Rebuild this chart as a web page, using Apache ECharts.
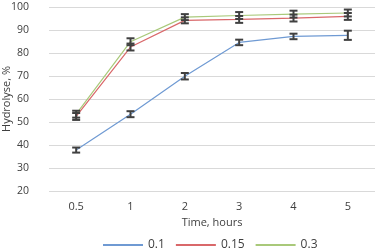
<!DOCTYPE html>
<html>
<head>
<meta charset="utf-8">
<script src="https://cdn.jsdelivr.net/npm/echarts@6/dist/echarts.min.js"></script>
<style>
  html, body { margin: 0; padding: 0; background: #fff; }
  #chart { width: 387px; height: 250px; }
</style>
</head>
<body>
<div id="chart"></div>
<script>
var times = ['0.5', '1', '2', '3', '4', '5'];
var names = ['0.1', '0.15', '0.3'];
var colors = ['#6f9ad3', '#d9686a', '#a9c97a'];

var hyd01 = [37.8, 53.4, 69.9, 84.6, 87.2, 87.7];
var hyd015 = [52.4, 82.6, 94.2, 94.6, 95.2, 95.9];
var hyd03 = [53.4, 84.9, 95.6, 96.3, 96.9, 97.4];

var err01 = [1.1, 1.3, 1.4, 1.2, 1.2, 2.0];
var err015 = [1.5, 1.5, 1.3, 1.5, 1.5, 1.5];
var err03 = [1.5, 1.5, 1.3, 1.5, 1.5, 1.5];

var yTicks = [20, 30, 40, 50, 60, 70, 80, 90, 100];

var values = [hyd01, hyd015, hyd03];
var errors = [err01, err015, err03];

function errorData(vals, errs) {
    return vals.map(function (v, i) { return [i, v - errs[i], v + errs[i]]; });
}

function renderError(params, api) {
    var top = api.coord([api.value(0), api.value(2)]);
    var bot = api.coord([api.value(0), api.value(1)]);
    var half = 4;
    var style = { stroke: '#404040', lineWidth: 2 };
    return {
        type: 'group',
        children: [
            { type: 'line', shape: { x1: top[0], y1: top[1], x2: bot[0], y2: bot[1] }, style: style },
            { type: 'line', shape: { x1: top[0] - half, y1: top[1], x2: top[0] + half, y2: top[1] }, style: style },
            { type: 'line', shape: { x1: bot[0] - half, y1: bot[1], x2: bot[0] + half, y2: bot[1] }, style: style }
        ]
    };
}

var series = [];
names.forEach(function (n, k) {
    series.push({
        name: n,
        type: 'line',
        data: values[k],
        symbol: 'none',
        lineStyle: { color: colors[k], width: 1.2 },
        itemStyle: { color: colors[k] },
        z: 2
    });
});
names.forEach(function (n, k) {
    series.push({
        name: n + ' err',
        type: 'custom',
        renderItem: renderError,
        data: errorData(values[k], errors[k]),
        encode: { x: 0, y: [1, 2] },
        z: 3,
        silent: true
    });
});

var myChart = echarts.init(document.getElementById('chart'));
var option = {
    animation: false,
    textStyle: { fontFamily: 'Open Sans' },
    grid: { left: 49, right: 12, top: 7, bottom: 59, containLabel: false, outerBoundsMode: 'none' },
    legend: {
        data: names,
        top: 234,
        left: 98,
        itemWidth: 40,
        itemHeight: 2,
        itemGap: 11,
        icon: 'rect',
        textStyle: { fontSize: 12, color: '#404040', fontFamily: 'Open Sans' }
    },
    xAxis: {
        type: 'category',
        data: times,
        boundaryGap: true,
        name: 'Time, hours',
        nameLocation: 'middle',
        nameGap: 25,
        nameTextStyle: { fontSize: 11, color: '#404040' },
        axisLine: { show: false },
        axisTick: { show: false },
        axisLabel: { fontSize: 11, color: '#404040', margin: 10 }
    },
    yAxis: {
        type: 'value',
        min: yTicks[0],
        max: yTicks[yTicks.length - 1],
        interval: 10,
        name: 'Hydrolyse, %',
        nameLocation: 'middle',
        nameGap: 37,
        nameMoveOverlap: false,
        nameTextStyle: { fontSize: 11, color: '#404040' },
        axisLine: { show: false },
        axisTick: { show: false },
        axisLabel: { fontSize: 10.5, color: '#404040', margin: 20 },
        splitLine: { lineStyle: { color: '#d9d9d9', width: 1 } }
    },
    series: series
};
option && myChart.setOption(option);
</script>
</body>
</html>
